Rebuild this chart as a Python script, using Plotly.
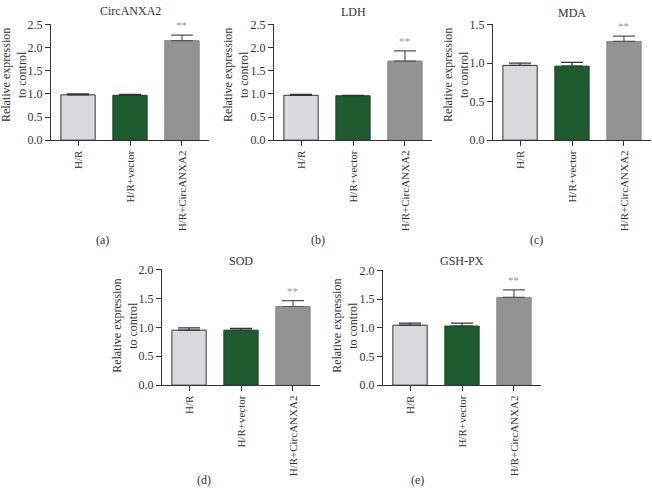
import plotly.graph_objects as go

W, H = 652, 502

categories = ["H/R", "H/R+vector", "H/R+CircANXA2"]
panel_titles = ["CircANXA2", "LDH", "MDA", "SOD", "GSH-PX"]
panel_letters = ["(a)", "(b)", "(c)", "(d)", "(e)"]

circanxa2_mean = [0.98, 0.97, 2.15]
circanxa2_sem = [0.02, 0.02, 0.12]
ldh_mean = [0.97, 0.96, 1.71]
ldh_sem = [0.02, 0.01, 0.22]
mda_mean = [0.97, 0.96, 1.28]
mda_sem = [0.03, 0.05, 0.07]
sod_mean = [0.95, 0.95, 1.36]
sod_sem = [0.04, 0.03, 0.10]
gshpx_mean = [1.045, 1.03, 1.53]
gshpx_sem = [0.035, 0.05, 0.13]

y_max = [2.5, 2.5, 1.5, 2.0, 2.0]
y_ticks = [[0, 0.5, 1.0, 1.5, 2.0, 2.5], [0, 0.5, 1.0, 1.5, 2.0, 2.5],
           [0, 0.5, 1.0, 1.5], [0, 0.5, 1.0, 1.5, 2.0], [0, 0.5, 1.0, 1.5, 2.0]]
significance = ["", "", "**"]

means = [circanxa2_mean, ldh_mean, mda_mean, sod_mean, gshpx_mean]
sems = [circanxa2_sem, ldh_sem, mda_sem, sod_sem, gshpx_sem]

fill_colors = ["#d8d9da", "#1e5b2f", "#939393"]
line_colors = ["#333333", "#1a4627", "#858585"]
err_colors = ["#333333", "#333333", "#555555"]

# pixel boxes for axes: (x0, x1, ytop, ybottom)
boxes = [(51, 209, 18, 137), (274, 432, 18, 137), (493, 651, 18, 137),
         (162, 320, 270, 389), (383, 541, 271, 389)]
ytitle_x = [14, 236, 456, 125, 345]
ytitle_y = [70, 70, 70, 328, 328]
title_y = [4, 5, 6, 261, 261]
letter_pos = [(102, 240), (318, 240), (536, 240), (204, 487), (417, 487)]

SERIF = "Liberation Serif, Times New Roman, serif"
fig = go.Figure()
annotations = []

def px(x):
    return x / W

def py(y):
    return 1 - y / H

for p in range(5):
    n = p + 1
    xa = "x" if n == 1 else f"x{n}"
    ya = "y" if n == 1 else f"y{n}"
    for i, cat in enumerate(categories):
        fig.add_trace(go.Bar(
            x=[cat], y=[means[p][i]], xaxis=xa, yaxis=ya,
            width=0.66,
            marker=dict(color=fill_colors[i], line=dict(color=line_colors[i], width=1)),
            error_y=dict(type="data", symmetric=False, array=[sems[p][i]], arrayminus=[0],
                         color=err_colors[i], thickness=1.2, width=11),
            showlegend=False, hoverinfo="skip"))
        if significance[i]:
            annotations.append(dict(
                x=cat, y=means[p][i] + sems[p][i], xref=xa, yref=ya,
                text=significance[i], showarrow=False, yanchor="bottom",
                yshift=2, font=dict(family=SERIF, size=11, color="#999999")))
    x0, x1, yt, yb = boxes[p]
    xkey = "xaxis" if n == 1 else f"xaxis{n}"
    ykey = "yaxis" if n == 1 else f"yaxis{n}"
    fig.layout[xkey] = dict(
        domain=[px(x0), px(x1)], anchor=ya, type="category",
        categoryorder="array", categoryarray=categories,
        range=[-0.52, 2.52], showline=True, linecolor="#333333", linewidth=1,
        ticks="outside", ticklen=5, tickcolor="#333333", tickwidth=1,
        tickangle=-90, showgrid=False, zeroline=False,
        tickfont=dict(family=SERIF, size=11, color="#333333"))
    fig.layout[ykey] = dict(
        domain=[py(yb), py(yt)], anchor=xa, range=[0, y_max[p]],
        tickvals=y_ticks[p], ticktext=[f"{v:.1f}" for v in y_ticks[p]],
        showline=True, linecolor="#333333", linewidth=1,
        ticks="outside", ticklen=5, tickcolor="#333333", tickwidth=1,
        showgrid=False, zeroline=False,
        tickfont=dict(family=SERIF, size=12, color="#333333"))
    annotations.append(dict(
        x=px((x0 + x1) / 2), y=py(title_y[p]), xref="paper", yref="paper",
        text=panel_titles[p], showarrow=False, xanchor="center", yanchor="middle",
        font=dict(family=SERIF, size=12, color="#333333")))
    annotations.append(dict(
        x=px(ytitle_x[p]), y=py(ytitle_y[p]), xref="paper", yref="paper",
        text="Relative expression<br>to control", showarrow=False, textangle=-90,
        xanchor="center", yanchor="middle",
        font=dict(family=SERIF, size=12, color="#333333")))
    lx, ly = letter_pos[p]
    annotations.append(dict(
        x=px(lx), y=py(ly), xref="paper", yref="paper",
        text=panel_letters[p], showarrow=False, xanchor="center", yanchor="middle",
        font=dict(family=SERIF, size=12, color="#333333")))

fig.update_layout(
    width=W, height=H, margin=dict(l=0, r=0, t=0, b=0),
    paper_bgcolor="white", plot_bgcolor="white",
    annotations=annotations, bargap=0.34)

fig.write_html("out.html", config={"displayModeBar": False},
               post_script="document.body.style.margin='0px';document.documentElement.style.overflow='hidden';")
